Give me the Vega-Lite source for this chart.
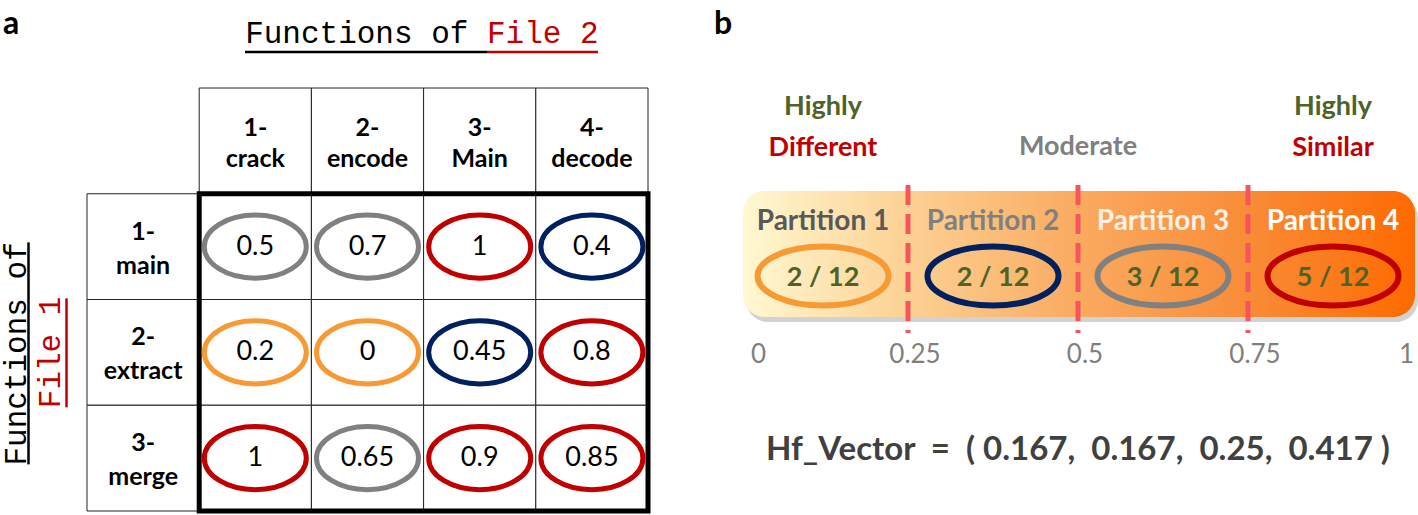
{
  "$schema": "https://vega.github.io/schema/vega-lite/v6.json",
  "width": 1418,
  "height": 515,
  "autosize": "none",
  "padding": 0,
  "background": "white",
  "config": {"view": {"stroke": null}, "axis": {"disable": true}},
  "datasets": {
    "matrix": [
      {"file1": "1- main", "file2": "1- crack", "similarity": 0.5},
      {"file1": "1- main", "file2": "2- encode", "similarity": 0.7},
      {"file1": "1- main", "file2": "3- Main", "similarity": 1},
      {"file1": "1- main", "file2": "4- decode", "similarity": 0.4},
      {"file1": "2- extract", "file2": "1- crack", "similarity": 0.2},
      {"file1": "2- extract", "file2": "2- encode", "similarity": 0},
      {"file1": "2- extract", "file2": "3- Main", "similarity": 0.45},
      {"file1": "2- extract", "file2": "4- decode", "similarity": 0.8},
      {"file1": "3- merge", "file2": "1- crack", "similarity": 1},
      {"file1": "3- merge", "file2": "2- encode", "similarity": 0.65},
      {"file1": "3- merge", "file2": "3- Main", "similarity": 0.9},
      {"file1": "3- merge", "file2": "4- decode", "similarity": 0.85}
    ],
    "file2_functions": [
      {"file2": "1- crack"}, {"file2": "2- encode"}, {"file2": "3- Main"}, {"file2": "4- decode"}
    ],
    "file1_functions": [
      {"file1": "1- main"}, {"file1": "2- extract"}, {"file1": "3- merge"}
    ],
    "partitions": [
      {"partition": "Partition 1", "from": 0, "to": 0.25, "center": 0.125, "share": "2 / 12"},
      {"partition": "Partition 2", "from": 0.25, "to": 0.5, "center": 0.375, "share": "2 / 12"},
      {"partition": "Partition 3", "from": 0.5, "to": 0.75, "center": 0.625, "share": "3 / 12"},
      {"partition": "Partition 4", "from": 0.75, "to": 1, "center": 0.875, "share": "5 / 12"}
    ],
    "boundaries": [
      {"boundary": 0}, {"boundary": 0.25}, {"boundary": 0.5}, {"boundary": 0.75}, {"boundary": 1}
    ]
  },
  "resolve": {"scale": {"x": "independent", "y": "independent"}},
  "layer": [
    {
      "layer": [
        {
          "data": {"name": "file2_functions"},
          "mark": {"type": "rect", "fill": "white", "stroke": "#222222", "strokeWidth": 1},
          "encoding": {
            "x": {"field": "file2", "type": "nominal", "scale": {"type": "band", "domain": ["header", "1- crack", "2- encode", "3- Main", "4- decode"], "range": [87, 648], "paddingInner": 0, "paddingOuter": 0}},
            "y": {"datum": "header", "type": "nominal", "scale": {"type": "band", "domain": ["header", "1- main", "2- extract", "3- merge"], "range": [88, 511], "paddingInner": 0, "paddingOuter": 0}}
          }
        },
        {
          "data": {"name": "file1_functions"},
          "mark": {"type": "rect", "fill": "white", "stroke": "#222222", "strokeWidth": 1},
          "encoding": {
            "x": {"datum": "header", "type": "nominal"},
            "y": {"field": "file1", "type": "nominal"}
          }
        },
        {
          "data": {"name": "matrix"},
          "mark": {"type": "rect", "fill": "white", "stroke": "#222222", "strokeWidth": 1},
          "encoding": {
            "x": {"field": "file2", "type": "nominal"},
            "y": {"field": "file1", "type": "nominal"}
          }
        },
        {
          "data": {"values": [{"block": "File 1 x File 2"}]},
          "mark": {"type": "rect", "filled": false, "stroke": "black", "strokeWidth": 5},
          "encoding": {
            "x": {"datum": "1- crack", "type": "nominal", "bandPosition": 0},
            "x2": {"datum": "4- decode", "bandPosition": 1},
            "y": {"datum": "1- main", "type": "nominal", "bandPosition": 0},
            "y2": {"datum": "3- merge", "bandPosition": 1}
          }
        },
        {
          "data": {"name": "matrix"},
          "mark": {"type": "point", "shape": "M-1,0C-1,-0.3413,-0.5523,-0.618,0,-0.618C0.5523,-0.618,1,-0.3413,1,0C1,0.3413,0.5523,0.618,0,0.618C-0.5523,0.618,-1,0.3413,-1,0Z", "filled": false, "strokeWidth": 5, "size": 10404, "opacity": 1},
          "encoding": {
            "x": {"field": "file2", "type": "nominal"},
            "y": {"field": "file1", "type": "nominal"},
            "stroke": {"field": "similarity", "type": "quantitative", "scale": {"type": "threshold", "domain": [0.25, 0.5, 0.75], "range": ["#F79A33", "#002060", "#808080", "#C00000"]}, "legend": null}
          }
        },
        {
          "data": {"name": "matrix"},
          "mark": {"type": "text", "font": "Lato", "fontSize": 27, "fill": "black", "baseline": "middle"},
          "encoding": {
            "x": {"field": "file2", "type": "nominal"},
            "y": {"field": "file1", "type": "nominal"},
            "text": {"field": "similarity", "type": "quantitative"}
          }
        },
        {
          "data": {"name": "file2_functions"},
          "mark": {"type": "text", "font": "Lato", "fontWeight": "bold", "fontSize": 25, "fill": "black", "lineBreak": " ", "lineHeight": 31, "baseline": "middle", "yOffset": -13},
          "encoding": {
            "x": {"field": "file2", "type": "nominal"},
            "y": {"datum": "header", "type": "nominal"},
            "text": {"field": "file2"}
          }
        },
        {
          "data": {"name": "file1_functions"},
          "mark": {"type": "text", "font": "Lato", "fontWeight": "bold", "fontSize": 25, "fill": "black", "lineBreak": " ", "lineHeight": 34, "baseline": "middle", "yOffset": -15},
          "encoding": {
            "x": {"datum": "header", "type": "nominal"},
            "y": {"field": "file1", "type": "nominal"},
            "text": {"field": "file1"}
          }
        },
        {
          "data": {"values": [{"caption": "Functions of"}]},
          "mark": {"type": "text", "font": "Liberation Mono", "fontSize": 31, "fill": "black", "align": "right", "baseline": "alphabetic", "xOffset": -18.6, "yOffset": -45},
          "encoding": {
            "x": {"datum": "3- Main", "type": "nominal", "bandPosition": 0.565},
            "y": {"datum": "header", "type": "nominal", "bandPosition": 0},
            "text": {"field": "caption"}
          }
        },
        {
          "data": {"values": [{"caption": "File 2"}]},
          "mark": {"type": "text", "font": "Liberation Mono", "fontSize": 31, "fill": "#C00000", "align": "left", "baseline": "alphabetic", "yOffset": -45},
          "encoding": {
            "x": {"datum": "3- Main", "type": "nominal", "bandPosition": 0.565},
            "y": {"datum": "header", "type": "nominal", "bandPosition": 0},
            "text": {"field": "caption"}
          }
        },
        {
          "data": {"values": [{"caption": "Functions of"}]},
          "mark": {"type": "rule", "stroke": "black", "strokeWidth": 2.5, "xOffset": -242, "yOffset": -36},
          "encoding": {
            "x": {"datum": "3- Main", "type": "nominal", "bandPosition": 0.565},
            "x2": {"datum": "3- Main", "bandPosition": 0.565},
            "y": {"datum": "header", "type": "nominal", "bandPosition": 0}
          }
        },
        {
          "data": {"values": [{"caption": "File 2"}]},
          "mark": {"type": "rule", "stroke": "#C00000", "strokeWidth": 2.5, "x2Offset": 111, "yOffset": -36},
          "encoding": {
            "x": {"datum": "3- Main", "type": "nominal", "bandPosition": 0.565},
            "x2": {"datum": "3- Main", "bandPosition": 0.565},
            "y": {"datum": "header", "type": "nominal", "bandPosition": 0}
          }
        },
        {
          "data": {"values": [{"caption": "Functions of"}]},
          "mark": {"type": "text", "font": "Liberation Mono", "fontSize": 31, "fill": "black", "angle": 270, "align": "center", "baseline": "alphabetic", "xOffset": -61.5, "yOffset": 1.5},
          "encoding": {
            "x": {"datum": "header", "type": "nominal", "bandPosition": 0},
            "y": {"datum": "2- extract", "type": "nominal", "bandPosition": 0.5},
            "text": {"field": "caption"}
          }
        },
        {
          "data": {"values": [{"caption": "File 1"}]},
          "mark": {"type": "text", "font": "Liberation Mono", "fontSize": 31, "fill": "#C00000", "angle": 270, "align": "center", "baseline": "alphabetic", "xOffset": -27, "yOffset": 0},
          "encoding": {
            "x": {"datum": "header", "type": "nominal", "bandPosition": 0},
            "y": {"datum": "2- extract", "type": "nominal", "bandPosition": 0.5},
            "text": {"field": "caption"}
          }
        },
        {
          "data": {"values": [{"caption": "Functions of"}]},
          "mark": {"type": "rule", "stroke": "black", "strokeWidth": 2.5, "xOffset": -58.5, "yOffset": -110, "y2Offset": 112},
          "encoding": {
            "x": {"datum": "header", "type": "nominal", "bandPosition": 0},
            "y": {"datum": "2- extract", "type": "nominal", "bandPosition": 0.5},
            "y2": {"datum": "2- extract", "bandPosition": 0.5}
          }
        },
        {
          "data": {"values": [{"caption": "File 1"}]},
          "mark": {"type": "rule", "stroke": "#C00000", "strokeWidth": 2.5, "xOffset": -20.5, "yOffset": -54, "y2Offset": 55},
          "encoding": {
            "x": {"datum": "header", "type": "nominal", "bandPosition": 0},
            "y": {"datum": "2- extract", "type": "nominal", "bandPosition": 0.5},
            "y2": {"datum": "2- extract", "bandPosition": 0.5}
          }
        },
        {
          "data": {"values": [{"panel": "a"}]},
          "mark": {"type": "text", "font": "Lato", "fontWeight": "bold", "fontSize": 32, "fill": "black", "align": "left", "baseline": "alphabetic", "xOffset": -84, "yOffset": -54},
          "encoding": {
            "x": {"datum": "header", "type": "nominal", "bandPosition": 0},
            "y": {"datum": "header", "type": "nominal", "bandPosition": 0},
            "text": {"field": "panel"}
          }
        }
      ]
    },
    {
      "layer": [
        {
          "data": {"values": [{"scale": "similarity"}]},
          "mark": {"type": "rect", "fill": "#7f7f7f", "opacity": 0.35, "cornerRadius": 22, "xOffset": 8, "x2Offset": 0, "yOffset": 5, "y2Offset": 5},
          "encoding": {
            "x": {"datum": 0, "type": "quantitative", "scale": {"type": "linear", "domain": [0, 1], "range": [738, 1418], "zero": false, "nice": false}},
            "x2": {"datum": 1},
            "y": {"datum": 0, "type": "quantitative", "scale": {"type": "linear", "domain": [0, 1], "range": [317, 191], "zero": false, "nice": false}},
            "y2": {"datum": 1}
          }
        },
        {
          "data": {"values": [{"scale": "similarity"}]},
          "mark": {"type": "rect", "cornerRadius": 22, "xOffset": 5, "x2Offset": -3,
            "fill": {"gradient": "linear", "x1": 0, "y1": 0, "x2": 1, "y2": 0, "stops": [
              {"offset": 0, "color": "#FFF8D2"},
              {"offset": 0.25, "color": "#FCD092"},
              {"offset": 0.5, "color": "#FAAA60"},
              {"offset": 0.75, "color": "#F98C38"},
              {"offset": 1, "color": "#FF6A00"}
            ]}},
          "encoding": {
            "x": {"datum": 0, "type": "quantitative"},
            "x2": {"datum": 1},
            "y": {"datum": 0, "type": "quantitative"},
            "y2": {"datum": 1}
          }
        },
        {
          "data": {"name": "boundaries"},
          "transform": [{"filter": "datum.boundary > 0 && datum.boundary < 1"}],
          "mark": {"type": "rule", "stroke": "#F4565B", "strokeWidth": 5, "strokeDash": [20, 9]},
          "encoding": {
            "x": {"field": "boundary", "type": "quantitative"},
            "y": {"datum": 1.048, "type": "quantitative"},
            "y2": {"datum": -0.127}
          }
        },
        {
          "data": {"name": "partitions"},
          "mark": {"type": "point", "shape": "M-1,0C-1,-0.2485,-0.5523,-0.45,0,-0.45C0.5523,-0.45,1,-0.2485,1,0C1,0.2485,0.5523,0.45,0,0.45C-0.5523,0.45,-1,0.2485,-1,0Z", "filled": false, "strokeWidth": 6, "size": 17161, "opacity": 1},
          "encoding": {
            "x": {"field": "center", "type": "quantitative"},
            "y": {"datum": 0.325, "type": "quantitative"},
            "stroke": {"field": "from", "type": "quantitative", "scale": {"type": "threshold", "domain": [0.25, 0.5, 0.75], "range": ["#F79A33", "#002060", "#808080", "#C00000"]}, "legend": null}
          }
        },
        {
          "data": {"name": "partitions"},
          "mark": {"type": "text", "font": "Lato", "fontWeight": "bold", "fontSize": 28, "baseline": "middle"},
          "encoding": {
            "x": {"field": "center", "type": "quantitative"},
            "y": {"datum": 0.754, "type": "quantitative"},
            "text": {"field": "partition"},
            "fill": {"field": "partition", "type": "nominal", "scale": {"domain": ["Partition 1", "Partition 2", "Partition 3", "Partition 4"], "range": ["#595959", "#808080", "#FDF0E4", "#FFFFFF"]}, "legend": null}
          }
        },
        {
          "data": {"name": "partitions"},
          "mark": {"type": "text", "font": "Lato", "fontWeight": "bold", "fontSize": 27, "baseline": "middle", "fill": "#4F6228"},
          "encoding": {
            "x": {"field": "center", "type": "quantitative"},
            "y": {"datum": 0.31, "type": "quantitative"},
            "text": {"field": "share"}
          }
        },
        {
          "data": {"name": "boundaries"},
          "transform": [{"filter": "datum.boundary > 0 && datum.boundary < 1"}],
          "mark": {"type": "text", "font": "Lato", "fontSize": 26, "baseline": "middle", "fill": "#7F7F7F", "xOffset": 7},
          "encoding": {
            "x": {"field": "boundary", "type": "quantitative"},
            "y": {"datum": -0.302, "type": "quantitative"},
            "text": {"field": "boundary", "type": "quantitative"}
          }
        },
        {
          "data": {"name": "boundaries"},
          "transform": [{"filter": "datum.boundary == 0"}],
          "mark": {"type": "text", "font": "Lato", "fontSize": 26, "baseline": "middle", "fill": "#7F7F7F", "align": "left", "xOffset": 13},
          "encoding": {
            "x": {"field": "boundary", "type": "quantitative"},
            "y": {"datum": -0.302, "type": "quantitative"},
            "text": {"field": "boundary", "type": "quantitative"}
          }
        },
        {
          "data": {"name": "boundaries"},
          "transform": [{"filter": "datum.boundary == 1"}],
          "mark": {"type": "text", "font": "Lato", "fontSize": 26, "baseline": "middle", "fill": "#7F7F7F", "align": "right", "xOffset": -4},
          "encoding": {
            "x": {"field": "boundary", "type": "quantitative"},
            "y": {"datum": -0.302, "type": "quantitative"},
            "text": {"field": "boundary", "type": "quantitative"}
          }
        },
        {
          "data": {"values": [{"word": "Highly", "similarity": 0.125}, {"word": "Highly", "similarity": 0.875}]},
          "mark": {"type": "text", "font": "Lato", "fontWeight": "bold", "fontSize": 27, "baseline": "middle", "fill": "#4F6228"},
          "encoding": {
            "x": {"field": "similarity", "type": "quantitative"},
            "y": {"datum": 1.667, "type": "quantitative"},
            "text": {"field": "word"}
          }
        },
        {
          "data": {"values": [{"word": "Different", "similarity": 0.125}, {"word": "Similar", "similarity": 0.875}]},
          "mark": {"type": "text", "font": "Lato", "fontWeight": "bold", "fontSize": 27, "baseline": "middle", "fill": "#C00000"},
          "encoding": {
            "x": {"field": "similarity", "type": "quantitative"},
            "y": {"datum": 1.341, "type": "quantitative"},
            "text": {"field": "word"}
          }
        },
        {
          "data": {"values": [{"word": "Moderate", "similarity": 0.5}]},
          "mark": {"type": "text", "font": "Lato", "fontWeight": "bold", "fontSize": 27, "baseline": "middle", "fill": "#808080"},
          "encoding": {
            "x": {"field": "similarity", "type": "quantitative"},
            "y": {"datum": 1.349, "type": "quantitative"},
            "text": {"field": "word"}
          }
        },
        {
          "data": {"values": [{"vector": "Hf_Vector\u00a0 =\u00a0 ( 0.167,\u00a0 0.167,\u00a0 0.25,\u00a0 0.417 )"}]},
          "mark": {"type": "text", "font": "Lato", "fontWeight": "bold", "fontSize": 33, "baseline": "middle", "fill": "#404040"},
          "encoding": {
            "x": {"datum": 0.5, "type": "quantitative"},
            "y": {"datum": -1.056, "type": "quantitative"},
            "text": {"field": "vector"}
          }
        },
        {
          "data": {"values": [{"panel": "b"}]},
          "mark": {"type": "text", "font": "Lato", "fontWeight": "bold", "fontSize": 32, "fill": "black", "align": "left", "baseline": "alphabetic", "xOffset": -24},
          "encoding": {
            "x": {"datum": 0, "type": "quantitative"},
            "y": {"datum": 2.246, "type": "quantitative"},
            "text": {"field": "panel"}
          }
        }
      ]
    }
  ]
}
